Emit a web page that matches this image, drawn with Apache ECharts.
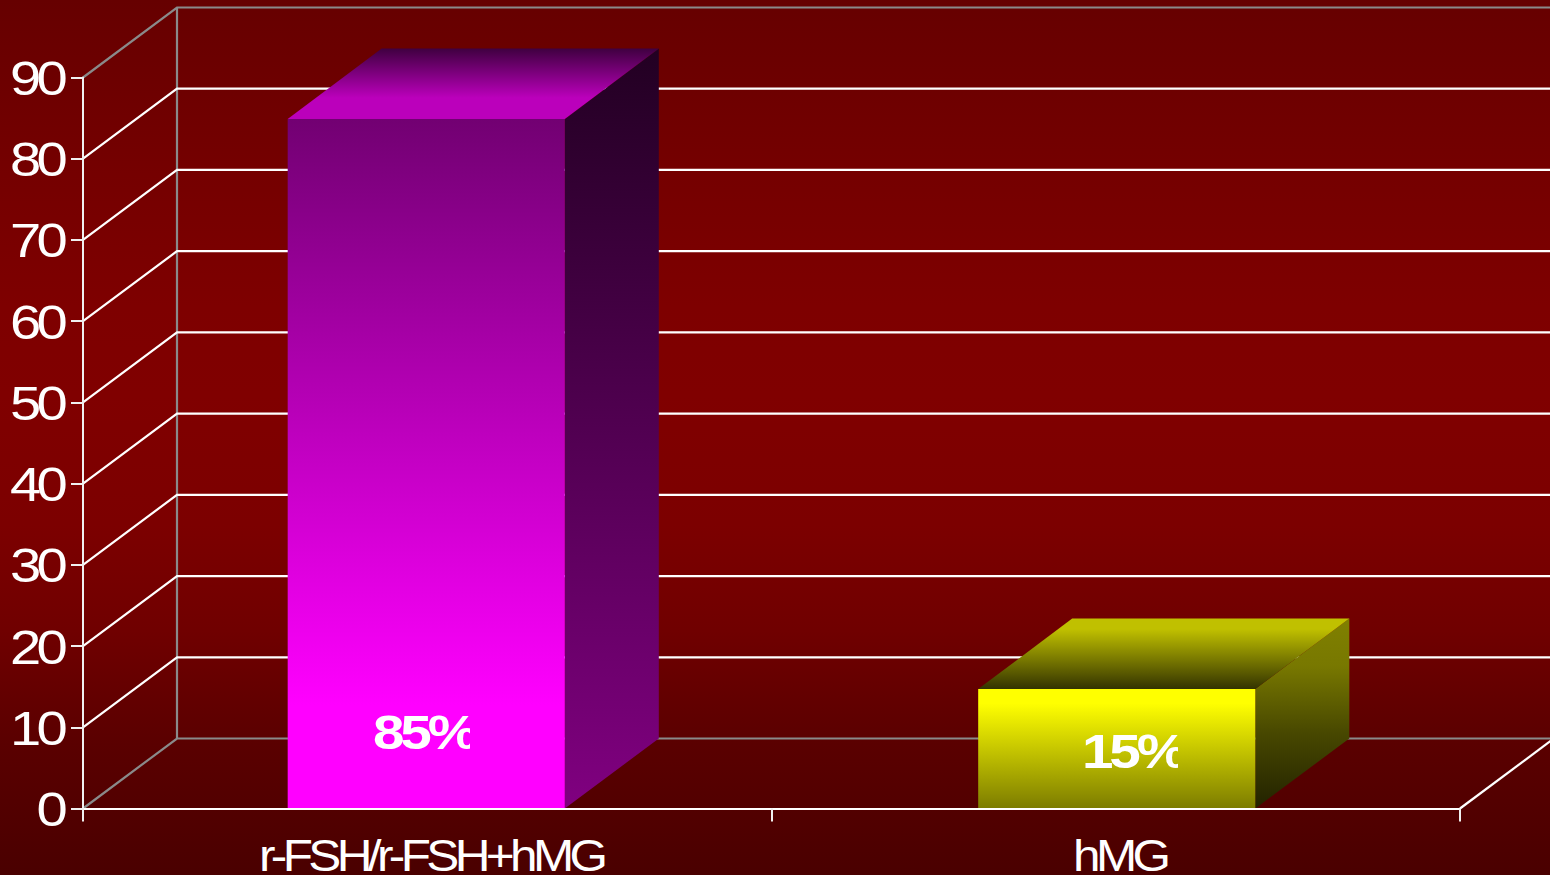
<!DOCTYPE html>
<html>
<head>
<meta charset="utf-8">
<style>
  html, body { margin: 0; padding: 0; background: #600000; }
  #chart { width: 1550px; height: 875px; overflow: hidden; }
  /* the glyphs in the picture are squeezed together, zrender has no letter spacing option */
  #chart text[text-anchor="end"] { letter-spacing: -4px; }
  #chart text[text-anchor="middle"] { letter-spacing: -4.2px; }
  #chart text[text-anchor="start"] { letter-spacing: -3.5px; }
</style>
<script src="https://cdn.jsdelivr.net/npm/echarts@6/dist/echarts.min.js"></script>
</head>
<body>
<div id="chart"></div>
<script>
const categories = ['r-FSH/r-FSH+hMG', 'hMG'];
const barValues = [84.9, 14.7];
const barLabels = ['85%', '15%'];
const yTicks = [0, 10, 20, 30, 40, 50, 60, 70, 80, 90];

const FONT = '"Liberation Sans", Arial, sans-serif';
const DX = 94, DY = -70;   // depth of the fake 3d box

const grad = (a, b, mids) => new echarts.graphic.LinearGradient(0, 0, 0, 1, [
  { offset: 0, color: a },
  ...(mids || []),
  { offset: 1, color: b }
]);

const barStyles = [
  {
    front: grad('#720072', '#ff00ff', [{ offset: 0.85, color: '#ff00ff' }]),
    top: grad('#3f0040', '#bb00bb', [{ offset: 0.7, color: '#bb00bb' }]),
    side: grad('#220022', '#800080'),
    nudge: -1, labelLeft: 374, labelRight: 470, labelUp: 76
  },
  {
    front: grad('#ffff00', '#7c7c00', [{ offset: 0.12, color: '#ffff00' }]),
    top: grad('#c0c000', '#333300', [{ offset: 0.15, color: '#c0c000' }]),
    side: grad('#808000', '#222200', [{ offset: 0.25, color: '#787800' }, { offset: 0.6, color: '#484800' }]),
    nudge: 1, labelLeft: 1083, labelRight: 1178, labelUp: 57
  }
];

function renderWall(params, api) {
  const v = api.value(0);
  const cs = params.coordSys;
  const y = api.coord([0, v])[1];
  const x0 = cs.x;
  const edge = (v === 0 || v === 90) ? '#8a8a8a' : '#ffffff';
  const children = [{
    type: 'polyline',
    shape: { points: [[x0, y], [x0 + DX, y + DY], [1560, y + DY]] },
    style: { stroke: edge, lineWidth: 2.2, fill: 'none' }
  }];
  if (v === 0) {
    children.push({
      type: 'line',
      shape: { x1: x0 + DX, y1: y + DY, x2: x0 + DX, y2: api.coord([0, 90])[1] + DY },
      style: { stroke: '#8a8a8a', lineWidth: 2.2 }
    });
    children.push({
      type: 'line',
      shape: { x1: cs.x + cs.width, y1: y, x2: cs.x + cs.width + DX, y2: y + DY },
      style: { stroke: '#ffffff', lineWidth: 2.2 }
    });
  }
  return { type: 'group', children: children };
}

function renderBar(params, api) {
  const i = api.value(0);
  const s = barStyles[i];
  const top = api.coord([i, api.value(1)]);
  const base = api.coord([i, 0]);
  const w = api.size([1, 0])[0] * 0.4025;
  const l = top[0] - w / 2 + s.nudge, r = l + w;
  const backY = top[1] + DY - 0.5;
  return {
    type: 'group',
    children: [
      {
        type: 'polygon',
        shape: { points: [[r, top[1]], [r + DX, backY], [r + DX, base[1] + DY], [r, base[1]]] },
        style: { fill: s.side }
      },
      {
        type: 'polygon',
        shape: { points: [[l, top[1]], [l + DX, backY], [r + DX, backY], [r, top[1]]] },
        style: { fill: s.top }
      },
      {
        type: 'rect',
        shape: { x: l, y: top[1], width: w, height: base[1] - top[1] },
        style: { fill: s.front }
      },
      {
        // the % sign is cut off on the right in the original
        type: 'group',
        clipPath: {
          type: 'rect',
          shape: { x: s.labelLeft - 5, y: base[1] - s.labelUp - 40, width: s.labelRight - s.labelLeft + 5, height: 80 }
        },
        children: [{
          type: 'text',
          x: s.labelLeft - 1,
          y: base[1] - s.labelUp,
          scaleX: 1.18,
          style: {
            text: barLabels[i],
            font: 'bold 48px ' + FONT,
            fill: '#ffffff',
            align: 'left',
            verticalAlign: 'middle'
          }
        }]
      }
    ]
  };
}

function renderYLabel(params, api) {
  const v = api.value(0);
  return {
    type: 'text',
    x: params.coordSys.x - 20,
    y: api.coord([0, v])[1] + 1,
    scaleX: 1.17,
    style: {
      text: String(v),
      font: '48px ' + FONT,
      fill: '#ffffff',
      align: 'right',
      verticalAlign: 'middle'
    }
  };
}

function renderXLabel(params, api) {
  const i = api.value(0);
  return {
    type: 'text',
    x: api.coord([i, 0])[0] + 4,
    y: api.coord([i, 0])[1] + 47,
    scaleX: 1.1,
    style: {
      text: categories[i],
      font: '45px ' + FONT,
      fill: '#ffffff',
      align: 'center',
      verticalAlign: 'middle'
    }
  };
}

const chart = echarts.init(document.getElementById('chart'), null, { renderer: 'svg' });

chart.setOption({
  animation: false,
  backgroundColor: new echarts.graphic.LinearGradient(0, 0, 0, 1, [
    { offset: 0, color: '#660000' },
    { offset: 0.2, color: '#750000' },
    { offset: 0.35, color: '#7e0000' },
    { offset: 0.45, color: '#800000' },
    { offset: 0.6, color: '#7c0000' },
    { offset: 0.72, color: '#700000' },
    { offset: 0.85, color: '#5a0000' },
    { offset: 1, color: '#4a0000' }
  ]),
  grid: { left: 83, right: 90, top: 77.5, bottom: 66.5 },
  xAxis: {
    type: 'category',
    data: categories,
    boundaryGap: true,
    axisLine: { lineStyle: { color: '#ffffff', width: 2 } },
    axisTick: { show: true, length: 13, lineStyle: { color: '#f0f0f0', width: 2 } },
    axisLabel: { show: false },
    z: 5
  },
  yAxis: {
    type: 'value',
    min: 0,
    max: 90,
    interval: 10,
    axisLine: { show: true, lineStyle: { color: '#f0f0f0', width: 2 } },
    axisTick: { show: true, length: 12, lineStyle: { color: '#f0f0f0', width: 2 } },
    axisLabel: { show: false },
    splitLine: { show: false },
    z: 5
  },
  series: [
    { type: 'custom', z: 1, clip: false, silent: true, renderItem: renderWall, data: yTicks.map(v => [v]) },
    { type: 'custom', z: 3, clip: false, silent: true, renderItem: renderBar, data: barValues.map((v, i) => [i, v]) },
    { type: 'custom', z: 4, clip: false, silent: true, renderItem: renderYLabel, data: yTicks.map(v => [v]) },
    { type: 'custom', z: 4, clip: false, silent: true, renderItem: renderXLabel, data: categories.map((c, i) => [i]) }
  ]
});
</script>
</body>
</html>
